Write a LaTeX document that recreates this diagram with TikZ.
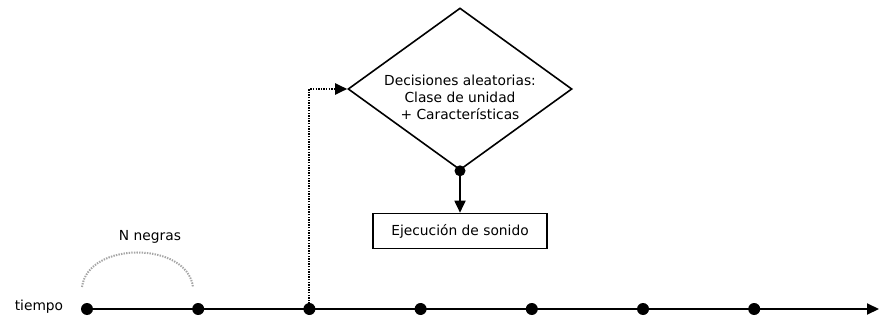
\documentclass[tikz,border=0pt]{standalone}
\usepackage{fontspec}
\setmainfont{DejaVu Sans}
\usetikzlibrary{shapes.geometric,positioning,arrows.meta}
\tikzset{
>={Triangle[length=12pt,width=11pt]},
x=1pt,y=-1pt,
dot/.style={circle,fill=black,inner sep=0pt,minimum size=12pt},
decision/.style={diamond,draw,line width=1.6pt,aspect=1.38,minimum width=224pt,minimum height=162pt,inner sep=0pt,font=\fontsize{13.8}{17}\selectfont},
action/.style={rectangle,draw,line width=1.6pt,minimum width=174pt,minimum height=35pt,font=\fontsize{13.8}{16}\selectfont},
label/.style={font=\fontsize{13.8}{16}\selectfont},
dotline/.style={line width=2pt,dash pattern=on 1.4pt off 1.2pt},
}

\begin{document}
\begin{tikzpicture}
    \useasboundingbox (0,0) rectangle (880,320);

    \foreach \i in {1,...,7}
        \node[dot] (t\i) at ({87+111.2*(\i-1)},309) {};
    \coordinate (fin) at (879,309);
    \node[label] (tiempo) at (39,307) {tiempo};

    \node[decision] (dec) at (460,89) {\raisebox{-14pt}[0pt][0pt]{\begin{tabular}{c}Decisiones aleatorias:\\Clase de unidad\\+ Características\end{tabular}}};
    \node[dot,minimum size=11pt] (ds) at (dec.south) {};
    \node[action] (exec) at (460,231) {Ejecución de sonido};

    \coordinate (nl) at (82,287);
    \coordinate (nr) at (193,287);
    \node[label] (negras) at (150,237) {N negras};

    \draw[line width=2pt,->] (t1) -- (fin);
    \draw[dotline,->] (t3.center) |- (dec.west);
    \draw[line width=1.8pt,->] (ds) -- (exec.north);
    \draw[dotline,gray!70] (nl) .. controls (88,241) and (187,241) .. (nr);

\end{tikzpicture}
\end{document}
